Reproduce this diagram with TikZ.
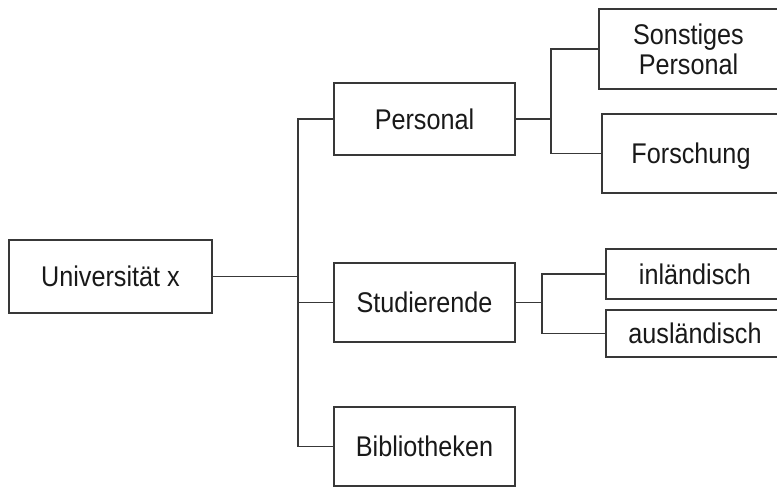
\documentclass[tikz,border=0pt]{standalone}
\usepackage{fontspec}
\usepackage{graphicx}
\setmainfont{Liberation Sans}
\newcommand{\btext}[2][10]{\raisebox{-#1pt}[0pt][0pt]{\scalebox{1}[1.13]{\begin{tabular}[b]{@{}c@{}}#2\end{tabular}}}}
\begin{document}
\begin{tikzpicture}[x=1pt,y=-1pt,
  box/.style={draw=black!78,line width=1.4pt,fill=white,inner sep=0pt,align=center,
    font=\fontsize{25.2}{26.5}\selectfont,text=black!90},
  conn/.style={draw=black!78,line width=1.4pt}]
\useasboundingbox (0,0) rectangle (777,487);
\clip (0,0) rectangle (777,487);
\node[box,minimum width=203pt,minimum height=73pt] (U) at (110.5,276.5) {\btext{Universität x}};
\node[box,minimum width=181pt,minimum height=72pt] (P) at (424.5,119) {\btext{Personal}};
\node[box,minimum width=181pt,minimum height=79pt] (S) at (424.5,302.5) {\btext{Studierende}};
\node[box,minimum width=181pt,minimum height=79pt] (B) at (424.5,446.5) {\btext{Bibliotheken}};
\node[box,minimum width=179pt,minimum height=80pt] (SP) at (688.5,49) {\btext[25]{Sonstiges\\Personal}};
\node[box,minimum width=178pt,minimum height=79pt] (F) at (691,153.5) {\btext{Forschung}};
\node[box,minimum width=178pt,minimum height=50pt] (I) at (695,274) {\btext{inländisch}};
\node[box,minimum width=178pt,minimum height=47pt] (A) at (695,333.5) {\btext{ausländisch}};
\coordinate (tr) at (298,0);
\coordinate (pr) at (551,0);
\coordinate (sr) at (542,0);
\draw[conn] (U.east) -- (U.east -| tr);
\draw[conn] (P.west) -- (P.west -| tr) |- (B.west);
\draw[conn] (S.west) -- (S.west -| tr);
\draw[conn] (P.east) -- (P.east -| pr);
\draw[conn] (SP.west) -- (SP.west -| pr) |- (F.west);
\draw[conn] (S.east) -- (S.east -| sr);
\draw[conn] (I.west) -- (I.west -| sr) |- (A.west);
\end{tikzpicture}
\end{document}
